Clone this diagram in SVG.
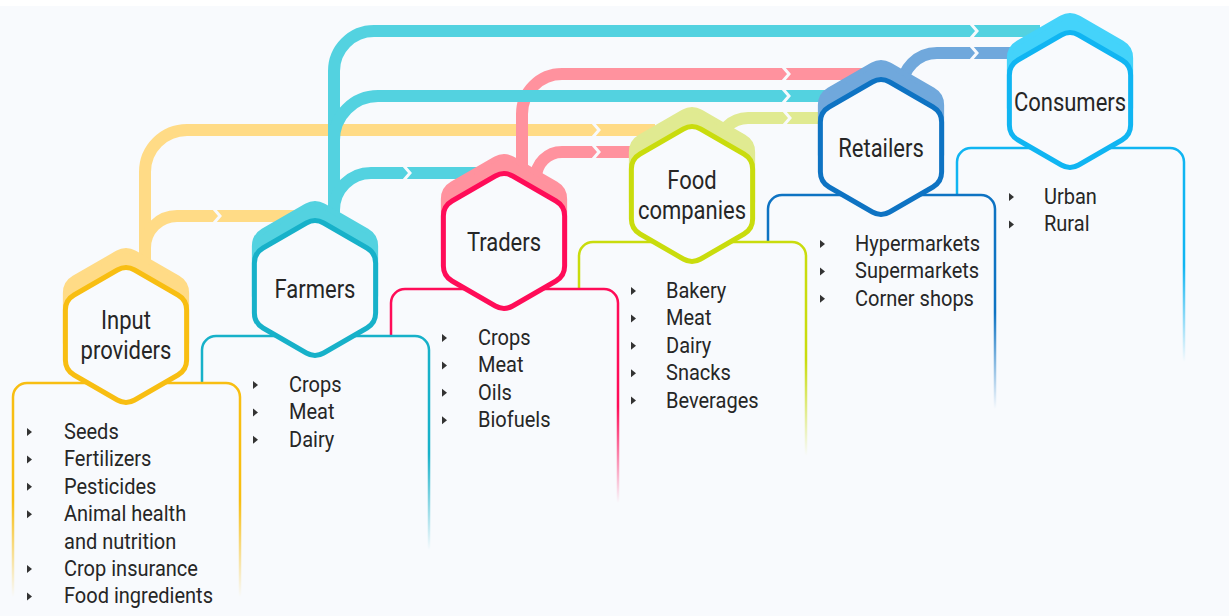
<svg xmlns="http://www.w3.org/2000/svg" width="1229" height="616" viewBox="0 0 1229 616">
  <style>
    .conn path { fill: none; stroke-width: 12; }
    .conn path.fillet { stroke: none; }
    .gap { fill: none; stroke: #f8fafd; stroke-width: 3; }
    .cap { stroke-width: 5; }
    .hex { fill: #f8fafd; stroke-width: 5; }
    .box { fill: #f8fafd; stroke-width: 2.5; }
    .lbl { font-family: Roboto, "Liberation Sans", sans-serif; font-size: 25px; fill: #262626; text-anchor: middle; }
    .item { font-family: Roboto, "Liberation Sans", sans-serif; font-size: 22.5px; fill: #262626; }
    .bul { fill: #333333; }
  </style>
  <defs>
    <!-- pointy-top hexagon with rounded corners, centred on the origin -->
    <path id="hex" d="M8.66,-65 L51.96,-40 Q60.62,-35 60.62,-25 L60.62,25 Q60.62,35 51.96,40 L8.66,65 Q0,70 -8.66,65 L-51.96,40 Q-60.62,35 -60.62,25 L-60.62,-25 Q-60.62,-35 -51.96,-40 L-8.66,-65 Q0,-70 8.66,-65 Z"/>
    <!-- open-bottom card under each hexagon -->
    <path id="card" d="M-113,262 V62 A14,14 0 0 1 -99,48 H100 A14,14 0 0 1 114,62 V262"/>
    <path id="bul" d="M0,-4 L5,0 L0,4 Z"/>
    <linearGradient id="gY" x1="0" y1="0" x2="0" y2="1">
      <stop offset="0" stop-color="#f8be12"/><stop offset="0.55" stop-color="#f8be12"/><stop offset="1" stop-color="#f8be12" stop-opacity="0"/>
    </linearGradient>
    <linearGradient id="gF" x1="0" y1="0" x2="0" y2="1">
      <stop offset="0" stop-color="#17b1c9"/><stop offset="0.55" stop-color="#17b1c9"/><stop offset="1" stop-color="#17b1c9" stop-opacity="0"/>
    </linearGradient>
    <linearGradient id="gT" x1="0" y1="0" x2="0" y2="1">
      <stop offset="0" stop-color="#ff0c58"/><stop offset="0.55" stop-color="#ff0c58"/><stop offset="1" stop-color="#ff0c58" stop-opacity="0"/>
    </linearGradient>
    <linearGradient id="gC" x1="0" y1="0" x2="0" y2="1">
      <stop offset="0" stop-color="#c9dc0d"/><stop offset="0.55" stop-color="#c9dc0d"/><stop offset="1" stop-color="#c9dc0d" stop-opacity="0"/>
    </linearGradient>
    <linearGradient id="gR" x1="0" y1="0" x2="0" y2="1">
      <stop offset="0" stop-color="#0e73c3"/><stop offset="0.55" stop-color="#0e73c3"/><stop offset="1" stop-color="#0e73c3" stop-opacity="0"/>
    </linearGradient>
    <linearGradient id="gK" x1="0" y1="0" x2="0" y2="1">
      <stop offset="0" stop-color="#10b5f2"/><stop offset="0.55" stop-color="#10b5f2"/><stop offset="1" stop-color="#10b5f2" stop-opacity="0"/>
    </linearGradient>
  </defs>

  <!-- page -->
  <rect x="0" y="0" width="1229" height="616" fill="#ffffff"/>
  <rect x="0" y="6" width="1229" height="610" fill="#f8fafd"/>

  <!-- flows between the stages -->
  <g id="connectors" class="conn">
    <path stroke="#ffdb86" d="M145,268 V172 A42,42 0 0 1 187,130 H655"/>
    <path stroke="#ffdb86" d="M145,262 V248 A32,32 0 0 1 177,216 H298"/>
    <path class="fillet" fill="#ffdb86" d="M151,244 Q152,258 165,266 L151,275 Z"/>
    <path stroke="#ff929e" d="M522,180 V114 A40,40 0 0 1 562,74 H862"/>
    <path stroke="#ff929e" d="M536,185 V178 A26,26 0 0 1 562,152 H640"/>
    <path stroke="#53d2e0" d="M334,218 V71 A40,40 0 0 1 374,31 H1040"/>
    <path stroke="#53d2e0" d="M334,140 A44,44 0 0 1 378,96 H832"/>
    <path stroke="#53d2e0" d="M334,210 A37,37 0 0 1 371,173 H478"/>
    <path class="fillet" fill="#53d2e0" d="M340,198 Q341,214 354,221 L340,230 Z"/>
    <path stroke="#e0ea91" d="M718,152 V148 A30,30 0 0 1 748,118 H830"/>
    <path stroke="#70a8dc" d="M902,95 V88 A35,35 0 0 1 937,53 H1015"/>
    <!-- chevron breaks -->
    <polyline class="gap" points="214,209 220,216 214,223"/>
    <polyline class="gap" points="404,166 410,173 404,180"/>
    <polyline class="gap" points="593,123 599,130 593,137"/>
    <polyline class="gap" points="593,145 599,152 593,159"/>
    <polyline class="gap" points="783,67 789,74 783,81"/>
    <polyline class="gap" points="783,89 789,96 783,103"/>
    <polyline class="gap" points="784,111 790,118 784,125"/>
    <polyline class="gap" points="971,24 977,31 971,38"/>
    <polyline class="gap" points="971,46 977,53 971,60"/>
  </g>

  <!-- Consumers -->
  <g id="consumers">
    <use href="#card" x="1070" y="100" class="box" stroke="url(#gK)"/>
    <use href="#hex" transform="translate(1070,83)" class="cap" fill="#44d3fa" stroke="#44d3fa"/>
    <use href="#hex" transform="translate(1070,100)" class="hex" stroke="#10b5f2"/>
    <text class="lbl" transform="translate(1070,111) scale(0.88,1)">Consumers</text>
    <use href="#bul" x="1009" y="197" class="bul"/>
    <use href="#bul" x="1009" y="224.4" class="bul"/>
    <g transform="translate(1044,204) scale(0.89,1)">
      <text class="item" y="0">Urban</text>
      <text class="item" y="27.4">Rural</text>
    </g>
  </g>

  <!-- Retailers -->
  <g id="retailers">
    <use href="#card" x="881" y="147" class="box" stroke="url(#gR)"/>
    <use href="#hex" transform="translate(881,130)" class="cap" fill="#70a8dc" stroke="#70a8dc"/>
    <use href="#hex" transform="translate(881,147)" class="hex" stroke="#0e73c3"/>
    <text class="lbl" transform="translate(881,157) scale(0.88,1)">Retailers</text>
    <use href="#bul" x="820" y="244" class="bul"/>
    <use href="#bul" x="820" y="271.4" class="bul"/>
    <use href="#bul" x="820" y="298.8" class="bul"/>
    <g transform="translate(855,251) scale(0.89,1)">
      <text class="item" y="0">Hypermarkets</text>
      <text class="item" y="27.4">Supermarkets</text>
      <text class="item" y="54.8">Corner shops</text>
    </g>
  </g>

  <!-- Food companies -->
  <g id="food-companies">
    <use href="#card" x="692" y="194" class="box" stroke="url(#gC)"/>
    <use href="#hex" transform="translate(692,177)" class="cap" fill="#e0ea91" stroke="#e0ea91"/>
    <use href="#hex" transform="translate(692,194)" class="hex" stroke="#c9dc0d"/>
    <text class="lbl" transform="translate(692,189) scale(0.88,1)">Food</text>
    <text class="lbl" transform="translate(692,219) scale(0.88,1)">companies</text>
    <use href="#bul" x="631" y="291" class="bul"/>
    <use href="#bul" x="631" y="318.4" class="bul"/>
    <use href="#bul" x="631" y="345.8" class="bul"/>
    <use href="#bul" x="631" y="373.2" class="bul"/>
    <use href="#bul" x="631" y="400.6" class="bul"/>
    <g transform="translate(666,298) scale(0.89,1)">
      <text class="item" y="0">Bakery</text>
      <text class="item" y="27.4">Meat</text>
      <text class="item" y="54.8">Dairy</text>
      <text class="item" y="82.2">Snacks</text>
      <text class="item" y="109.6">Beverages</text>
    </g>
  </g>

  <!-- Traders -->
  <g id="traders">
    <use href="#card" x="504" y="241" class="box" stroke="url(#gT)"/>
    <use href="#hex" transform="translate(504,224)" class="cap" fill="#ff929e" stroke="#ff929e"/>
    <use href="#hex" transform="translate(504,241)" class="hex" stroke="#ff0c58"/>
    <text class="lbl" transform="translate(504,251) scale(0.88,1)">Traders</text>
    <use href="#bul" x="442" y="338" class="bul"/>
    <use href="#bul" x="442" y="365.4" class="bul"/>
    <use href="#bul" x="442" y="392.8" class="bul"/>
    <use href="#bul" x="442" y="420.2" class="bul"/>
    <g transform="translate(478,345) scale(0.89,1)">
      <text class="item" y="0">Crops</text>
      <text class="item" y="27.4">Meat</text>
      <text class="item" y="54.8">Oils</text>
      <text class="item" y="82.2">Biofuels</text>
    </g>
  </g>

  <!-- Farmers -->
  <g id="farmers">
    <use href="#card" x="315" y="288" class="box" stroke="url(#gF)"/>
    <use href="#hex" transform="translate(315,271)" class="cap" fill="#53d2e0" stroke="#53d2e0"/>
    <use href="#hex" transform="translate(315,288)" class="hex" stroke="#17b1c9"/>
    <text class="lbl" transform="translate(315,298) scale(0.88,1)">Farmers</text>
    <use href="#bul" x="253" y="385" class="bul"/>
    <use href="#bul" x="253" y="412.4" class="bul"/>
    <use href="#bul" x="253" y="439.8" class="bul"/>
    <g transform="translate(289,392) scale(0.89,1)">
      <text class="item" y="0">Crops</text>
      <text class="item" y="27.4">Meat</text>
      <text class="item" y="54.8">Dairy</text>
    </g>
  </g>

  <!-- Input providers -->
  <g id="input-providers">
    <use href="#card" x="126" y="335" class="box" stroke="url(#gY)"/>
    <use href="#hex" transform="translate(126,318)" class="cap" fill="#ffdb86" stroke="#ffdb86"/>
    <use href="#hex" transform="translate(126,335)" class="hex" stroke="#f8be12"/>
    <text class="lbl" transform="translate(126,329) scale(0.88,1)">Input</text>
    <text class="lbl" transform="translate(126,359) scale(0.88,1)">providers</text>
    <use href="#bul" x="27" y="432" class="bul"/>
    <use href="#bul" x="27" y="459.4" class="bul"/>
    <use href="#bul" x="27" y="486.8" class="bul"/>
    <use href="#bul" x="27" y="514.2" class="bul"/>
    <use href="#bul" x="27" y="569" class="bul"/>
    <use href="#bul" x="27" y="596.4" class="bul"/>
    <g transform="translate(64,439) scale(0.89,1)">
      <text class="item" y="0">Seeds</text>
      <text class="item" y="27.4">Fertilizers</text>
      <text class="item" y="54.8">Pesticides</text>
      <text class="item" y="82.2">Animal health</text>
      <text class="item" y="109.6">and nutrition</text>
      <text class="item" y="137">Crop insurance</text>
      <text class="item" y="164.4">Food ingredients</text>
    </g>
  </g>
</svg>
